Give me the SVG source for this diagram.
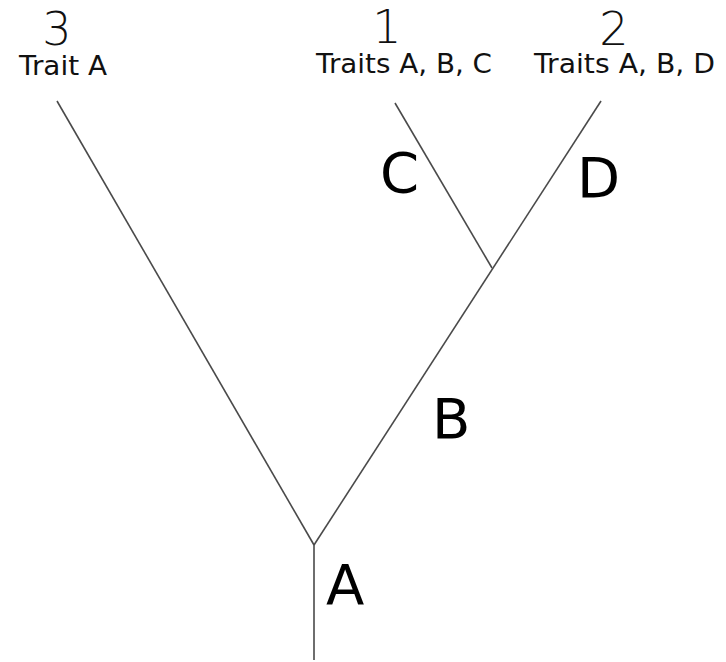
<svg xmlns="http://www.w3.org/2000/svg" width="726" height="662" viewBox="0 0 726 662">
<style>
.edge{stroke:#4a4a4a;stroke-width:1.6;fill:none}
.num{font-family:"DejaVu Sans",sans-serif;font-size:46px;font-weight:200;fill:#111;text-anchor:middle}
.trait{font-family:"DejaVu Sans",sans-serif;font-size:27px;fill:#111}
.lbl{font-family:"DejaVu Sans",sans-serif;font-size:56px;fill:#000}
</style>
<rect width="726" height="662" fill="#fff"/>
<g id="connectors">
<line class="edge" x1="314" y1="545" x2="314" y2="660"/>
<line class="edge" x1="314" y1="545" x2="57" y2="101"/>
<line class="edge" x1="314" y1="545" x2="601" y2="101"/>
<line class="edge" x1="492" y1="268" x2="395" y2="103"/>
</g>
<g id="taxon3"><text class="num" x="57" y="45">3</text><text class="trait" x="19" y="75" textLength="88" lengthAdjust="spacingAndGlyphs">Trait A</text></g>
<g id="taxon1"><text class="num" x="387" y="43">1</text><text class="trait" x="316" y="73" textLength="176" lengthAdjust="spacingAndGlyphs">Traits A, B, C</text></g>
<g id="taxon2"><text class="num" x="614" y="45">2</text><text class="trait" x="534" y="73" textLength="181" lengthAdjust="spacingAndGlyphs">Traits A, B, D</text></g>
<g id="labelA"><text class="lbl" x="326" y="604">A</text></g>
<g id="labelB"><text class="lbl" x="432" y="438">B</text></g>
<g id="labelC"><text class="lbl" x="380" y="192">C</text></g>
<g id="labelD"><text class="lbl" x="577" y="197">D</text></g>
</svg>
